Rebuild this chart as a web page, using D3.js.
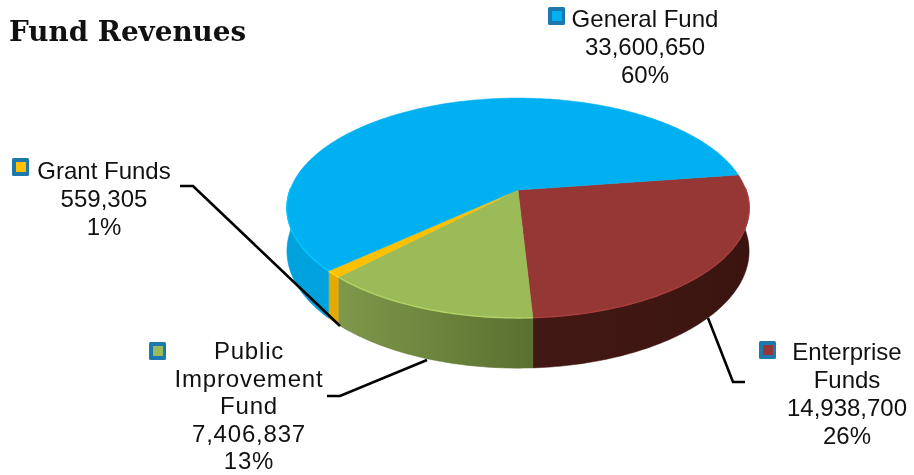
<!DOCTYPE html>
<html>
<head>
<meta charset="utf-8">
<script src="https://d3js.org/d3.v7.min.js"></script>
<style>
  body { margin: 0; background: #fff; }
  svg { display: block; filter: blur(0.4px); }
  text { font-family: "Liberation Sans", Arial, sans-serif; fill: #111; }
</style>
</head>
<body>
<svg id="chart" width="914" height="475"></svg>
<script>
// Chart data
const categories = ["Enterprise Funds", "Public Improvement Fund", "Grant Funds", "General Fund"];
const values = [14938700, 7406837, 559305, 33600650];
const percents = ["26%", "13%", "1%", "60%"];
const labelLines = [
    ["Enterprise", "Funds"],
    ["Public", "Improvement", "Fund"],
    ["Grant Funds"],
    ["General Fund"]
];

const topColors = ["#953735", "#9bbb59", "#ffc000", "#00b0f0"];
const wallLeft = ["#431814", "#7f984a", "#e4aa00", "#00a2de"];
const wallRight = ["#3b1410", "#5a7030", "#e4aa00", "#00a2de"];

// Where the labels, keys and leader lines sit
const labelX = [847, 249, 104, 645];
const labelY = [360, 359, 179, 27];
const lineGap = [28, 27.6, 28, 28];
const labelSpacing = [0, 0.8, 0, 0];
const keyX = [759, 149, 12, 548];
const keyY = [341, 342, 158, 7];
const leaders = [
    [[745, 382], [733, 382], [708, 318]],
    [[327, 396], [340, 396], [427, 360]],
    [[180, 186], [193, 186], [340, 326]]
];

const svg = d3.select("#chart");
const defs = svg.append("defs");

// Pie geometry: a disc seen in perspective
const cx = 518, cy = 190;
const radiusX = 228, radiusY = 107;
const tilt = 0.1636;
const depth = 42;
const startAngle = 81.7 * Math.PI / 180;

function project(angle, drop) {
    const u = Math.sin(angle), v = -Math.cos(angle);
    const w = 1 - tilt * v;
    return [cx + radiusX * u / w, cy + (radiusY * v + drop) / w];
}

const pie = d3.pie().sort(null).startAngle(startAngle).endAngle(startAngle + 2 * Math.PI);
const slices = pie(values);
const color = d3.scaleOrdinal().domain(categories).range(topColors);
const line = d3.line();

function samples(a0, a1) {
    const n = Math.max(2, Math.ceil((a1 - a0) * 60));
    return d3.range(n + 1).map(i => a0 + (a1 - a0) * i / n);
}

// Side walls, only the front half of the rim shows
const frontStart = Math.PI / 2 - 0.02, frontEnd = 3 * Math.PI / 2 + 0.02;
const turn = 2 * Math.PI;

const walls = svg.append("g");
const rims = [];
slices.forEach((d, i) => {
    [0, turn].forEach(offset => {
        const a0 = Math.max(d.startAngle - offset, frontStart);
        const a1 = Math.min(d.endAngle - offset, frontEnd);
        if (a1 <= a0) return;
        const gradId = `wall-${i}-${offset ? 1 : 0}`;
        const grad = defs.append("linearGradient").attr("id", gradId);
        grad.append("stop").attr("offset", "0%").attr("stop-color", wallLeft[i]);
        grad.append("stop").attr("offset", "100%").attr("stop-color", wallRight[i]);
        const angles = samples(a0, a1);
        const pts = angles.map(a => project(a, 0))
            .concat(angles.slice().reverse().map(a => project(a, depth)));
        walls.append("path")
            .attr("d", line(pts) + "Z")
            .attr("fill", `url(#${gradId})`)
            .attr("stroke", wallRight[i])
            .attr("stroke-width", 0.5);
        rims.push({ i: i, pts: angles.map(a => project(a, 0)) });
    });
});

// Top of the pie
const topFaces = svg.append("g");
topFaces.selectAll("path")
    .data(slices)
    .enter().append("path")
    .attr("d", d => line([[cx, cy]].concat(samples(d.startAngle, d.endAngle).map(a => project(a, 0)))) + "Z")
    .attr("fill", (d, i) => color(categories[i]))
    .attr("stroke", (d, i) => color(categories[i]))
    .attr("stroke-width", 0.5);

// Thin light edge where the top meets the wall
svg.append("g").selectAll("path")
    .data(rims)
    .enter().append("path")
    .attr("d", d => line(d.pts))
    .attr("fill", "none")
    .attr("stroke", d => d3.color(topColors[d.i]).brighter(0.35))
    .attr("stroke-width", 1.4);

// Leader lines
svg.append("g").selectAll("path")
    .data(leaders)
    .enter().append("path")
    .attr("d", d => line(d))
    .attr("fill", "none")
    .attr("stroke", "#000")
    .attr("stroke-width", 2.6);

// Legend keys
const keys = svg.append("g");
categories.forEach((c, i) => {
    keys.append("rect")
        .attr("x", keyX[i]).attr("y", keyY[i])
        .attr("width", 17).attr("height", 18)
        .attr("rx", 1.5)
        .attr("fill", "#1d79ad");
    keys.append("rect")
        .attr("x", keyX[i] + 4).attr("y", keyY[i] + 4)
        .attr("width", 10).attr("height", 10)
        .attr("fill", color(c));
});

// Labels: name lines, then the value and the percent
const fmt = d3.format(",");
categories.forEach((c, i) => {
    const lines = labelLines[i].concat([fmt(values[i]), percents[i]]);
    svg.append("g").selectAll("text")
        .data(lines)
        .enter().append("text")
        .attr("x", labelX[i])
        .attr("y", (d, j) => labelY[i] + j * lineGap[i])
        .attr("text-anchor", "middle")
        .attr("font-size", 24)
        .attr("letter-spacing", labelSpacing[i])
        .text(d => d);
});

// Title
svg.append("text")
    .attr("x", 9)
    .attr("y", 41)
    .attr("font-size", 27.8)
    .attr("font-weight", "bold")
    .style("font-family", '"DejaVu Serif", serif')
    .text("Fund Revenues");
</script>
</body>
</html>
